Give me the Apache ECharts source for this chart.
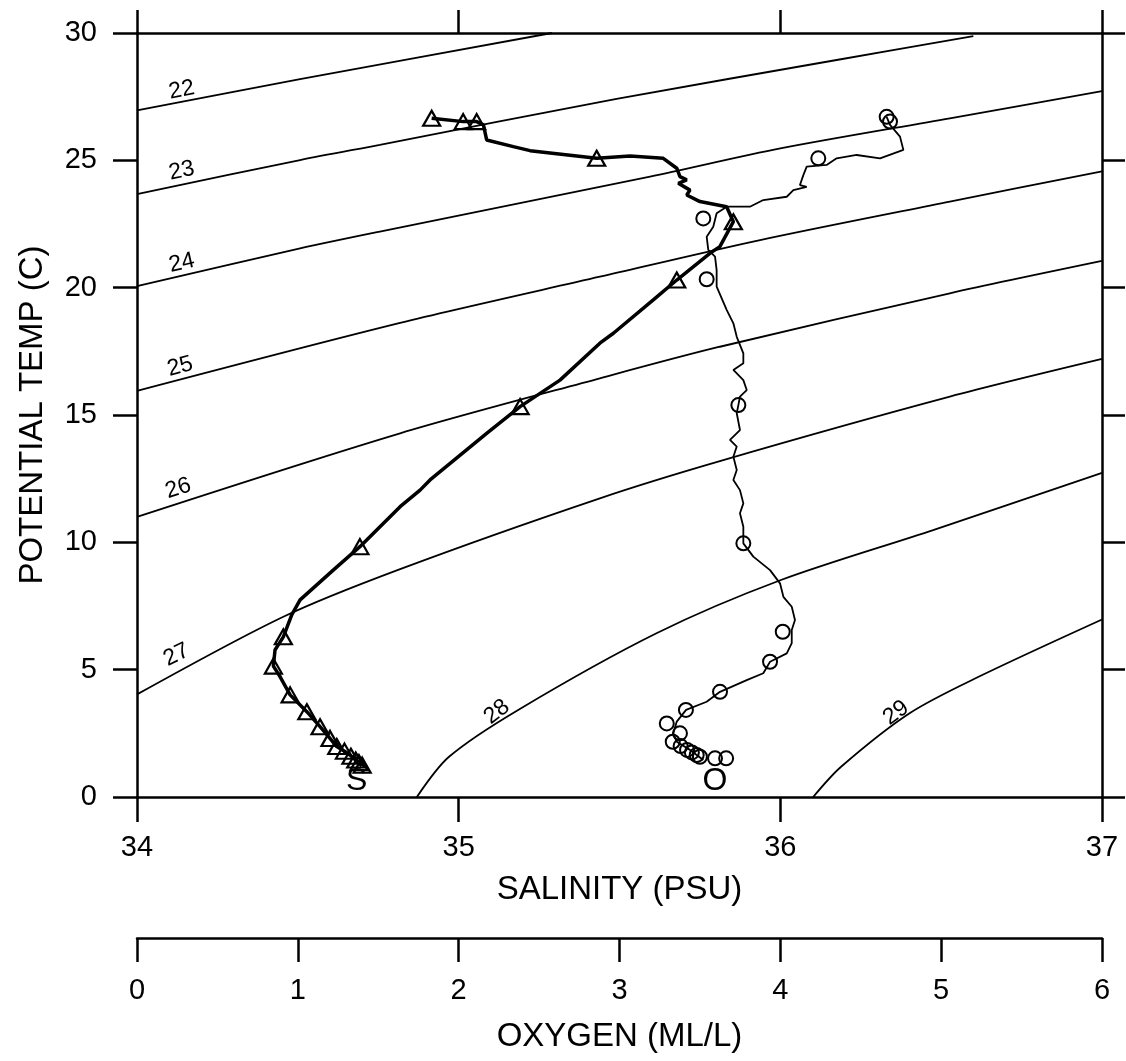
<!DOCTYPE html>
<html><head><meta charset="utf-8">
<script src="https://cdn.jsdelivr.net/npm/echarts@6/dist/echarts.min.js"></script>
<style>html,body{margin:0;padding:0;background:#fff}#c{width:1126px;height:1061px}</style>
</head><body><div id="c"></div>
<script>
// ---------- axis ranges ----------
const salinityRange = [34, 37];
const tempRange = [0, 30];
const oxygenRange = [0, 6];

// ---------- sigma-theta isopycnals [salinity, temp] ----------
const sigmaNames = ['22', '23', '24', '25', '26', '27', '28', '29'];
const sig22 = [[34, 26.96], [34.507, 28.19], [35.29, 30]];
const sig23 = [[34, 23.67], [34.507, 25.01], [34.755, 25.61], [35.491, 27.41], [36.175, 28.94], [36.60, 29.88]];
const sig24 = [[34, 20.06], [34.507, 21.54], [34.755, 22.2], [35.595, 24.36], [36.0, 25.47], [36.527, 26.65], [37, 27.72]];
const sig25 = [[34, 15.95], [34.818, 18.62], [35.439, 20.43], [35.937, 21.87], [36.527, 23.38], [37, 24.57]];
const sig26 = [[34, 11.0], [34.818, 14.28], [35.439, 16.44], [35.812, 17.68], [36.527, 19.78], [37, 21.05]];
const sig27 = [[34, 4.03], [34.455, 7.08], [34.818, 8.95], [35.439, 11.73], [35.812, 13.19], [36.527, 15.72], [37, 17.2]];
const sig28 = [[34.87, 0], [34.97, 1.58], [35.185, 3.42], [35.615, 6.43], [36.002, 8.52], [36.475, 10.48], [37, 12.73]];
const sig29 = [[36.102, 0], [36.188, 1.18], [36.403, 3.3], [36.618, 4.73], [37, 6.97]];
const sigmaLines = [sig22, sig23, sig24, sig25, sig26, sig27, sig28, sig29];
// label anchor of each isopycnal [salinity, temp]
const sigmaLabelAt = [[34.139, 27.76], [34.139, 24.59], [34.139, 20.97], [34.134, 16.9], [34.128, 12.12], [34.123, 5.58], [35.119, 3.34], [36.36, 3.30]];

// ---------- salinity profile [salinity, temp] ----------
const salinityTrace = [
  [34.916, 26.65], [35.014, 26.52], [35.056, 26.52], [35.077, 26.39], [35.087, 25.80], [35.170, 25.54],
  [35.222, 25.38], [35.429, 25.08], [35.533, 25.17], [35.636, 25.08], [35.678, 24.69], [35.688, 24.36],
  [35.709, 24.23], [35.683, 24.10], [35.719, 23.83], [35.709, 23.64], [35.750, 23.38], [35.833, 23.18],
  [35.854, 22.59], [35.812, 21.61], [35.781, 21.35], [35.678, 20.30], [35.605, 19.52], [35.481, 18.21],
  [35.439, 17.82], [35.315, 16.37], [35.191, 15.33], [35.087, 14.28], [34.911, 12.45], [34.880, 12.05],
  [34.818, 11.40], [34.693, 9.83], [34.610, 8.91], [34.507, 7.74], [34.481, 7.15], [34.455, 6.29],
  [34.429, 5.77], [34.424, 5.14], [34.445, 4.72], [34.476, 4.01], [34.528, 3.35], [34.569, 2.76],
  [34.600, 2.30], [34.621, 1.98], [34.645, 1.80], [34.662, 1.65], [34.680, 1.45], [34.699, 1.22]
];
const salinityMarks = [
  [34.916, 26.65], [35.014, 26.52], [35.056, 26.52], [35.429, 25.08], [35.854, 22.59], [35.678, 20.30],
  [35.191, 15.33], [34.693, 9.83], [34.455, 6.29], [34.424, 5.14], [34.476, 4.01], [34.528, 3.35],
  [34.569, 2.76], [34.600, 2.30], [34.621, 1.98], [34.645, 1.80], [34.665, 1.60], [34.680, 1.45],
  [34.690, 1.35], [34.700, 1.25]
];

// ---------- oxygen profile [oxygen, temp] ----------
const oxygenTrace = [
  [4.661, 26.71], [4.682, 26.39], [4.744, 25.93], [4.765, 25.41], [4.620, 25.08], [4.475, 25.21],
  [4.350, 25.08], [4.288, 24.82], [4.164, 24.75], [4.143, 24.42], [4.122, 24.03], [4.164, 23.96],
  [4.081, 23.83], [4.040, 23.57], [3.894, 23.44], [3.811, 23.18], [3.667, 23.18], [3.604, 22.92],
  [3.583, 22.39], [3.542, 22.00], [3.552, 21.48], [3.594, 21.22], [3.604, 20.69], [3.604, 20.04],
  [3.667, 19.12], [3.708, 18.60], [3.729, 18.07], [3.770, 17.42], [3.770, 17.03], [3.708, 16.77],
  [3.770, 16.37], [3.791, 15.98], [3.749, 15.72], [3.739, 15.39], [3.729, 15.07], [3.749, 14.41],
  [3.687, 14.02], [3.729, 13.76], [3.708, 13.36], [3.729, 12.84], [3.708, 12.45], [3.749, 12.05],
  [3.770, 11.53], [3.749, 11.14], [3.770, 10.61], [3.770, 9.96], [3.832, 9.44], [3.936, 8.91],
  [3.998, 8.39], [4.019, 7.86], [4.071, 7.47], [4.091, 6.95], [4.071, 6.56], [4.071, 6.04],
  [4.040, 5.64], [3.936, 5.31], [3.894, 4.86], [3.791, 4.59], [3.625, 4.13], [3.542, 3.74],
  [3.414, 3.42], [3.356, 2.96], [3.335, 2.50], [3.356, 2.17], [3.438, 1.85], [3.480, 1.65], [3.521, 1.45]
];
const oxygenMarks = [
  [4.661, 26.71], [4.682, 26.52], [4.236, 25.08], [3.521, 22.72], [3.542, 20.33], [3.739, 15.39],
  [3.770, 9.96], [4.015, 6.49], [3.936, 5.31], [3.625, 4.13], [3.413, 3.42], [3.294, 2.89],
  [3.376, 2.50], [3.331, 2.17], [3.380, 2.00], [3.420, 1.85], [3.450, 1.75], [3.480, 1.65],
  [3.500, 1.58], [3.594, 1.52], [3.663, 1.52]
];
const profileLabels = [{ text: 'S', at: [34.683, 0.62] }, { text: 'O', at: [3.594, 0.62] }];

// ---------- titles ----------
const xTitle = 'SALINITY (PSU)';
const yTitle = 'POTENTIAL TEMP (C)';
const oTitle = 'OXYGEN (ML/L)';

// ---------- styling ----------
const FONT = '"Liberation Sans", Arial, Helvetica, sans-serif';
const INK = '#000';
const labelAngles = [11, 12, 13, 15, 18, 26, 38, 36];

const axisLine = { show: true, onZero: false, lineStyle: { color: INK, width: 2.5 } };
const tick = (len) => ({ show: true, inside: false, length: len, lineStyle: { color: INK, width: 2.5 } });

const series = [];
sigmaLines.forEach((d) => {
  series.push({
    type: 'line', xAxisIndex: 0, yAxisIndex: 0, data: d, symbol: 'none',
    smooth: 0.3, silent: true,
    lineStyle: { color: INK, width: 1.8 }, z: 2
  });
});
series.push({
  type: 'scatter', xAxisIndex: 0, yAxisIndex: 0, symbolSize: 0, silent: true, z: 3,
  itemStyle: { opacity: 1 },
  data: sigmaLabelAt.map((p, i) => ({
    value: p,
    label: { show: true, position: 'inside', formatter: sigmaNames[i], rotate: labelAngles[i],
      fontSize: 23, fontFamily: FONT, color: INK }
  }))
});
series.push({
  type: 'line', xAxisIndex: 0, yAxisIndex: 0, data: salinityTrace, symbol: 'none',
  lineStyle: { color: INK, width: 3.5 }, z: 4
});
series.push({
  type: 'scatter', xAxisIndex: 0, yAxisIndex: 0, data: salinityMarks, symbol: 'triangle',
  symbolSize: [17, 15], itemStyle: { color: 'rgba(255,255,255,0)', borderColor: INK, borderWidth: 2.2, opacity: 1 }, z: 5
});
series.push({
  type: 'line', xAxisIndex: 2, yAxisIndex: 0, data: oxygenTrace, symbol: 'none',
  lineStyle: { color: INK, width: 1.8 }, z: 4
});
series.push({
  type: 'scatter', xAxisIndex: 2, yAxisIndex: 0, data: oxygenMarks, symbol: 'circle',
  symbolSize: 14, itemStyle: { color: 'rgba(255,255,255,0)', borderColor: INK, borderWidth: 2, opacity: 1 }, z: 5
});
profileLabels.forEach((p, i) => {
  series.push({
    type: 'scatter', xAxisIndex: i === 0 ? 0 : 2, yAxisIndex: 0, symbolSize: 0, silent: true, z: 6,
    itemStyle: { opacity: 1 },
    data: [{ value: p.at, label: { show: true, position: 'inside', formatter: p.text,
      fontSize: 32, fontFamily: FONT, color: INK } }]
  });
});

const chart = echarts.init(document.getElementById('c'), null, { renderer: 'canvas' });
chart.setOption({
  backgroundColor: '#fff',
  animation: false,
  grid: { left: 137, top: 33, width: 965, height: 764, containLabel: false },
  xAxis: [
    { type: 'value', position: 'bottom', min: salinityRange[0], max: salinityRange[1], interval: 1,
      axisLine, axisTick: tick(25), splitLine: { show: false },
      axisLabel: { fontSize: 29, fontFamily: FONT, color: INK, margin: 36 },
      name: xTitle, nameLocation: 'middle', nameGap: 76,
      nameTextStyle: { fontSize: 33, fontFamily: FONT, color: INK } },
    { type: 'value', position: 'top', min: salinityRange[0], max: salinityRange[1], interval: 1,
      axisLine, axisTick: tick(23), splitLine: { show: false }, axisLabel: { show: false } },
    { type: 'value', position: 'bottom', offset: 141, min: oxygenRange[0], max: oxygenRange[1], interval: 1,
      axisLine, axisTick: tick(24), splitLine: { show: false },
      axisLabel: { fontSize: 29, fontFamily: FONT, color: INK, margin: 38 },
      name: oTitle, nameLocation: 'middle', nameGap: 82,
      nameTextStyle: { fontSize: 33, fontFamily: FONT, color: INK } }
  ],
  yAxis: [
    { type: 'value', position: 'left', min: tempRange[0], max: tempRange[1], interval: 5,
      axisLine, axisTick: tick(24), splitLine: { show: false },
      axisLabel: { fontSize: 29, fontFamily: FONT, color: INK, margin: 40 },
      name: yTitle, nameLocation: 'middle', nameGap: 88,
      nameTextStyle: { fontSize: 33, fontFamily: FONT, color: INK } },
    { type: 'value', position: 'right', min: tempRange[0], max: tempRange[1], interval: 5,
      axisLine, axisTick: tick(23), splitLine: { show: false }, axisLabel: { show: false } }
  ],
  series
});
</script></body></html>
